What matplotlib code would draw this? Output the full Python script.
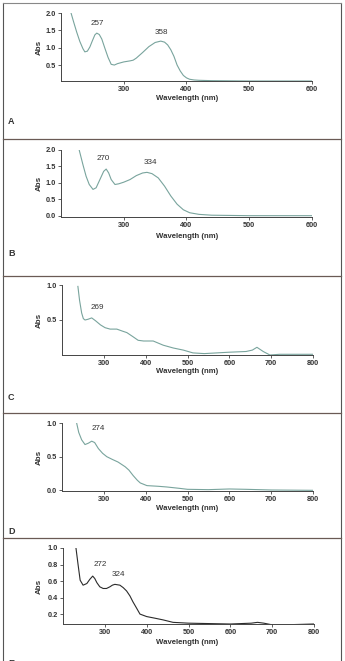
import matplotlib
matplotlib.use("Agg")
import matplotlib.pyplot as plt
from matplotlib.lines import Line2D

plt.rcParams['font.family'] = ['Liberation Sans', 'DejaVu Sans']

# spectra (wavelength nm, absorbance)
wl_a = [216, 220, 225, 230, 235, 238, 242, 246, 250, 254, 257, 261, 265, 270, 275, 280, 285,
        290, 300, 310, 315, 320, 330, 340, 350, 359, 365, 370, 375, 380, 385, 390, 395, 400,
        405, 412, 420, 440, 470, 500, 550, 600]
abs_a = [2.0, 1.75, 1.45, 1.18, 0.97, 0.88, 0.9, 1.02, 1.2, 1.37, 1.42, 1.38, 1.25, 0.98,
         0.72, 0.52, 0.5, 0.54, 0.59, 0.62, 0.64, 0.7, 0.86, 1.03, 1.15, 1.19, 1.16, 1.08,
         0.94, 0.75, 0.5, 0.33, 0.2, 0.13, 0.09, 0.07, 0.06, 0.05, 0.045, 0.04, 0.04, 0.04]

wl_b = [229, 235, 240, 245, 251, 256, 262, 268, 272, 276, 280, 286, 292, 300, 310, 320, 330,
        337, 345, 355, 365, 375, 385, 395, 405, 420, 440, 500, 600]
abs_b = [2.0, 1.55, 1.2, 0.95, 0.8, 0.85, 1.1, 1.35, 1.42, 1.3, 1.1, 0.95, 0.97, 1.02, 1.1,
         1.22, 1.3, 1.32, 1.28, 1.15, 0.9, 0.6, 0.35, 0.18, 0.09, 0.04, 0.015, 0.0, 0.0]

wl_c = [238, 242, 247, 251, 255, 262, 271, 280, 292, 303, 315, 331, 345, 355, 370, 382, 395,
        403, 418, 430, 442, 466, 490, 513, 540, 570, 600, 640, 655, 666, 681, 697, 720, 800]
abs_c = [0.98, 0.78, 0.6, 0.52, 0.5, 0.51, 0.53, 0.49, 0.43, 0.39, 0.37, 0.37, 0.34, 0.32,
         0.26, 0.21, 0.2, 0.2, 0.2, 0.17, 0.14, 0.1, 0.07, 0.03, 0.02, 0.03, 0.04, 0.05, 0.07,
         0.11, 0.05, 0.0, 0.01, 0.01]

wl_d = [235, 240, 247, 255, 263, 271, 278, 287, 297, 307, 320, 334, 351, 360, 370, 380, 387,
        395, 403, 430, 450, 480, 500, 550, 600, 640, 700, 800]
abs_d = [1.0, 0.86, 0.75, 0.68, 0.7, 0.73, 0.71, 0.62, 0.55, 0.5, 0.46, 0.42, 0.35, 0.3,
         0.22, 0.15, 0.11, 0.09, 0.07, 0.06, 0.05, 0.03, 0.015, 0.01, 0.02, 0.015, 0.005, 0.0]

wl_e = [231, 236, 241, 248, 257, 264, 271, 276, 281, 288, 296, 304, 312, 318, 324, 336, 344,
        352, 360, 367, 375, 384, 400, 420, 439, 463, 500, 600, 650, 665, 680, 700, 715, 730, 800]
abs_e = [1.0, 0.8, 0.61, 0.55, 0.57, 0.62, 0.66, 0.63, 0.58, 0.53, 0.51, 0.51, 0.53, 0.55,
         0.56, 0.55, 0.52, 0.48, 0.42, 0.35, 0.28, 0.2, 0.17, 0.15, 0.13, 0.1, 0.09, 0.08,
         0.09, 0.1, 0.09, 0.07, 0.05, 0.07, 0.08]

# peak labels: wavelength, absorbance at peak
peaks_a = [(257, 1.42), (359, 1.19)]
peaks_b = [(272, 1.42), (337, 1.32)]
peaks_c = [(271, 0.53)]
peaks_d = [(274, 0.73)]
peaks_e = [(272, 0.66), (324, 0.56)]
names_a = ["257", "358"]
names_b = ["270", "334"]
names_c = ["269"]
names_d = ["274"]
names_e = ["272", "324"]

xticks_a = [300, 400, 500, 600]
xticks_c = [300, 400, 500, 600, 700, 800]
yticks_a = [0.5, 1.0, 1.5, 2.0]
yticks_b = [0.0, 0.5, 1.0, 1.5, 2.0]
yticks_c = [0.5, 1.0]
yticks_d = [0.0, 0.5, 1.0]
yticks_e = [0.2, 0.4, 0.6, 0.8, 1.0]

W, H = 345, 661
teal = "#79a49d"
axcol = "#444444"

fig = plt.figure(figsize=(W / 100, H / 100), dpi=100)


def box(l, t, r, b):
    return [l / W, 1 - b / H, (r - l) / W, (b - t) / H]


panels = [
    # letter, box px, xlim, ylim, xticks, yticks, data, peaks, color, label offsets, x-label y, letter y
    ("A", (61, 13, 312, 81), (200, 600), (0.04, 2.0), xticks_a, yticks_a,
     wl_a, abs_a, peaks_a, names_a, teal, [(0, 10), (1, 9)], 99, 122),
    ("B", (61, 150, 312, 217), (200, 600), (-0.04, 2.0), xticks_a, yticks_b,
     wl_b, abs_b, peaks_b, names_b, teal, [(-3, 11), (3, 10)], 237, 253),
    ("C", (62, 285, 313, 355), (200, 800), (0.0, 1.0), xticks_c, yticks_c,
     wl_c, abs_c, peaks_c, names_c, teal, [(6, 10)], 371, 397),
    ("D", (62, 423, 313, 491), (200, 800), (-0.01, 1.0), xticks_c, yticks_d,
     wl_d, abs_d, peaks_d, names_d, teal, [(5, 13)], 508, 531),
    ("E", (63, 548, 314, 624), (200, 800), (0.08, 1.0), xticks_c, yticks_e,
     wl_e, abs_e, peaks_e, names_e, "#2b2b2b", [(7, 12), (4, 10)], 642, 664),
]

for letter, bx, xl, yl, xt, yt, xs, ys, pk, nm, col, offs, wly, lety in panels:
    ax = fig.add_axes(box(*bx))
    ax.plot(xs, ys, color=col, lw=0.8, solid_joinstyle='round')
    ax.set_xlim(*xl)
    ax.set_ylim(*yl)
    ax.set_xticks(xt)
    ax.set_yticks(yt)
    ax.set_yticklabels([f"{v:.1f}" for v in yt])
    for s in ["top", "right"]:
        ax.spines[s].set_visible(False)
    for s in ["left", "bottom"]:
        ax.spines[s].set_color(axcol)
        ax.spines[s].set_linewidth(0.7)
    ax.tick_params(length=2, width=0.6, color=axcol, pad=1.5, labelsize=5.3,
                   labelcolor="#333333")
    for lab in ax.get_xticklabels() + ax.get_yticklabels():
        lab.set_fontweight("bold")
    ax.patch.set_alpha(0)
    for (px, py), name, (dx, dy) in zip(pk, nm, offs):
        ax.annotate(name, (px, py), xytext=(dx, dy), textcoords="offset pixels",
                    ha="center", va="center", fontsize=5.8, color="#333333")
    fig.text(187 / W, 1 - wly / H, "Wavelength (nm)", ha="center", va="center",
             fontsize=5.6, fontweight="bold", color="#333333")
    fig.text(39 / W, 1 - (bx[1] + bx[3]) / 2 / H, "Abs", ha="center", va="center",
             rotation=90, fontsize=5.8, fontweight="bold", color="#333333")
    fig.text(8 / W, 1 - lety / H, letter, ha="left", va="center",
             fontsize=6.5, fontweight="bold", color="#333333")

# frame and separators between the panels
frame = "#555555"
fig.add_artist(Line2D([2.5 / W, 2.5 / W], [1 - 3 / H, 0], transform=fig.transFigure,
                      color=frame, lw=0.8))
fig.add_artist(Line2D([341 / W, 341 / W], [1 - 3 / H, 0], transform=fig.transFigure,
                      color=frame, lw=0.8))
fig.add_artist(Line2D([2.5 / W, 341 / W], [1 - 3 / H, 1 - 3 / H], transform=fig.transFigure,
                      color="#888888", lw=0.8))
for sy in [139, 276, 413, 538]:
    fig.add_artist(Line2D([2.5 / W, 341 / W], [1 - sy / H, 1 - sy / H],
                          transform=fig.transFigure, color="#6a5a55", lw=0.9))

fig.savefig("out.png", dpi=100)
